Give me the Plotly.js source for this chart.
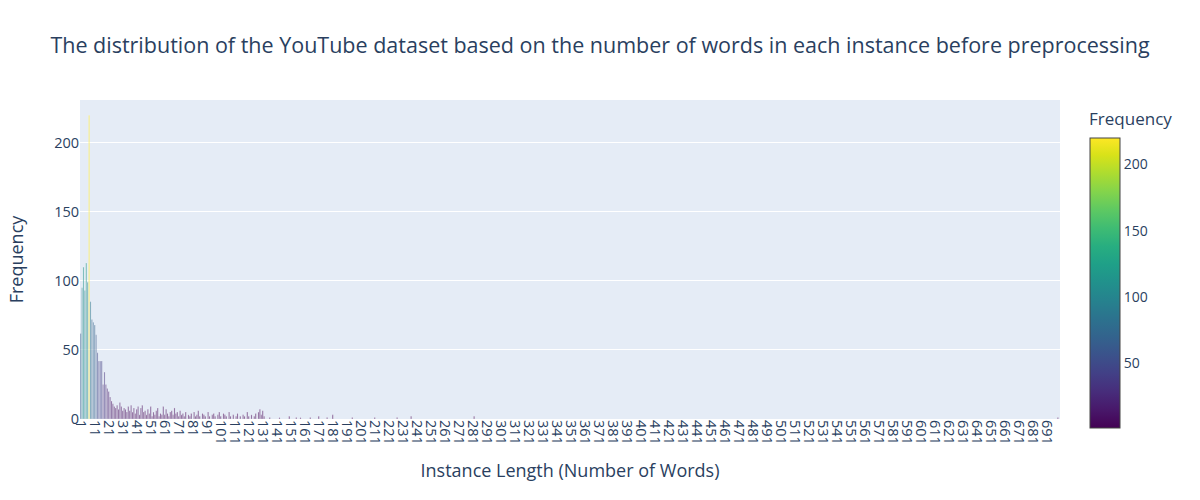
<!DOCTYPE html>
<html>
<head>
<meta charset="utf-8">
<script src="https://cdn.plot.ly/plotly-3.0.1.min.js"></script>
<style>body{margin:0}#chart{width:1200px;height:500px}</style>
</head>
<body>
<div id="chart"></div>
<script>
// instance length (words) and number of instances with that length
const lengths = [
  1,2,3,4,5,6,7,8,9,10,11,12,13,14,15,16,17,18,19,20,
  21,22,23,24,25,26,27,28,29,30,31,32,33,34,35,36,37,38,39,40,
  41,42,43,44,45,46,47,48,49,50,51,52,53,54,55,56,57,58,59,60,
  61,62,63,64,65,66,67,68,69,70,71,72,73,74,75,76,78,79,80,82,
  83,84,85,86,88,89,90,92,93,95,96,97,99,100,101,103,104,105,107,108,
  110,112,113,115,117,118,120,121,123,125,126,128,129,130,131,132,136,143,150,155,
  158,165,171,177,181,195,211,227,237,282,699
];
const counts = [
  62,95,110,93,113,99,220,85,72,70,68,61,48,42,42,42,25,34,25,22,
  20,16,13,11,9,8,10,7,12,9,6,8,7,5,9,6,10,5,8,4,
  7,9,3,8,10,5,6,3,7,4,9,2,5,3,6,8,2,4,3,9,
  3,7,4,2,5,6,3,8,4,5,2,6,3,4,2,5,3,2,4,5,
  2,3,6,2,4,3,2,5,2,3,4,2,3,5,2,4,3,2,5,2,
  3,2,4,2,3,2,5,2,3,2,4,5,7,3,6,2,1,1,2,1,
  1,1,2,1,3,1,1,1,2,2,1
];

const tickVals = [];
for (let v = 1; v <= 691; v += 10) tickVals.push(v);

const data = [{
  type: 'bar',
  x: lengths,
  y: counts,
  marker: {
    color: counts,
    colorscale: 'Viridis',
    cmin: 1,
    cmax: 220,
    opacity: 0.7,
    line: { color: 'rgba(255,255,255,0.6)', width: 0.5 },
    colorbar: {
      title: { text: 'Frequency', font: { size: 17 } },
      tickvals: [50, 100, 150, 200],
      len: 1.06,
      y: 0.47,
      thickness: 30,
      x: 1.02,
      tickfont: { size: 14 }
    }
  }
}];

const layout = {
  width: 1200,
  height: 500,
  margin: { l: 80, r: 140, t: 100, b: 81 },
  font: { family: 'Open Sans, sans-serif', color: '#2a3f5f' },
  title: {
    text: 'The distribution of the YouTube dataset based on the number of words in each instance before preprocessing',
    x: 0.5,
    y: 0.925,
    font: { size: 21.5 }
  },
  paper_bgcolor: 'white',
  plot_bgcolor: '#e5ecf6',
  bargap: 0.2,
  xaxis: {
    title: { text: 'Instance Length (Number of Words)', font: { size: 18 }, standoff: 20 },
    range: [0.5, 700.5],
    tickvals: tickVals,
    tickangle: 90,
    tickfont: { size: 14.5 },
    showgrid: false,
    zeroline: false
  },
  yaxis: {
    title: { text: 'Frequency', font: { size: 18 }, standoff: 25 },
    range: [0, 231],
    tickvals: [0, 50, 100, 150, 200],
    tickfont: { size: 14.5 },
    gridcolor: 'white',
    zeroline: false
  }
};

Plotly.newPlot('chart', data, layout, { displayModeBar: false });
</script>
</body>
</html>
